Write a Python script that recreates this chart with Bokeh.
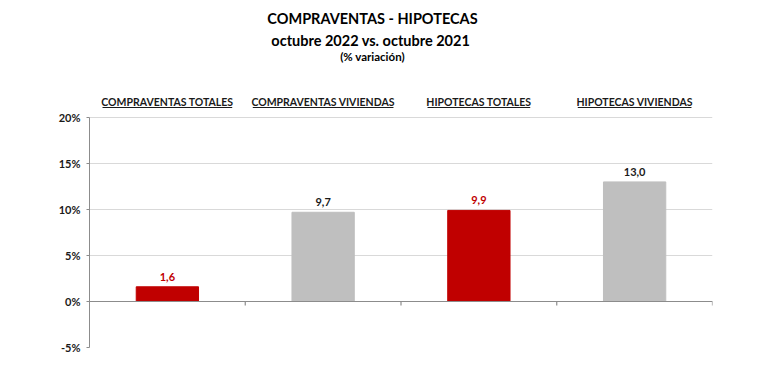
from bokeh.plotting import figure
from bokeh.models import Range1d, FixedTicker, PrintfTickFormatter, ColumnDataSource, Span
from bokeh.core.properties import value
from bokeh.embed import file_html
from bokeh.resources import INLINE

# ---- data ----
categories = ["COMPRAVENTAS TOTALES", "COMPRAVENTAS VIVIENDAS",
              "HIPOTECAS TOTALES", "HIPOTECAS VIVIENDAS"]
variation = [1.6, 9.7, 9.9, 13.0]
y_ticks = [-5, 0, 5, 10, 15, 20]
title_text = "COMPRAVENTAS - HIPOTECAS"
subtitle_text = "octubre 2022  vs. octubre 2021"
note_text = "(% variación)"

# ---- style ----
RED = "#C00000"
GRAY = "#BFBFBF"
AXIS = "#8C8C8C"
GRID = "#D9D9D9"
FONT = "Lato"
FW, FH = 623, 347
n = len(categories)
px_per_unit = FW / n
y_top = 32.72
px_per_pct = FH / (y_top - y_ticks[0])

p = figure(frame_width=FW, frame_height=FH, min_border_left=89, min_border_right=56,
           min_border_top=0, min_border_bottom=21,
           x_range=Range1d(0, n), y_range=Range1d(y_ticks[0], y_top),
           x_axis_location=None, output_backend="svg", toolbar_location=None)
p.outline_line_color = None
p.background_fill_color = "white"
p.border_fill_color = "white"

# y axis
p.yaxis.ticker = FixedTicker(ticks=y_ticks)
p.yaxis.bounds = (y_ticks[0], y_ticks[-1])
p.yaxis.formatter = PrintfTickFormatter(format="%d%%")
p.yaxis.axis_line_color = AXIS
p.yaxis.major_tick_line_color = AXIS
p.yaxis.major_tick_out = 3
p.yaxis.major_tick_in = 0
p.yaxis.minor_tick_line_color = None
p.yaxis.major_label_text_font = FONT
p.yaxis.major_label_text_font_style = "bold"
p.yaxis.major_label_text_font_size = "11px"
p.yaxis.major_label_text_color = "#1a1a1a"
p.yaxis.major_label_standoff = 6
p.ygrid.ticker = FixedTicker(ticks=y_ticks)
p.ygrid.grid_line_color = GRID
p.xgrid.visible = False

centers = [i + 0.5 for i in range(n)]
is_total = ["TOTALES" in c for c in categories]
bar_colors = [RED if t else GRAY for t in is_total]
label_colors = [RED if t else "#1a1a1a" for t in is_total]
labels = [f"{v:.1f}".replace(".", ",") for v in variation]

src = ColumnDataSource(dict(x=centers, top=variation, color=bar_colors,
                            lcolor=label_colors, label=labels, cat=categories))
p.vbar(x="x", top="top", bottom=0, width=0.4, fill_color="color", line_color="color", source=src)

# x axis line at zero with category-boundary ticks
p.add_layout(Span(location=0, dimension="width", line_color=AXIS, line_width=1.2))
bounds_x = list(range(1, n + 1))
tick_len = 4 / px_per_pct
p.segment(x0=bounds_x, x1=bounds_x, y0=[0] * n, y1=[-tick_len] * n, line_color=AXIS, line_width=1.2)

p.text(x="x", y="top", text="label", text_color="lcolor", source=src,
       text_font=value(FONT), text_font_style="bold", text_font_size="11px",
       text_align="center", text_baseline="bottom", y_offset=-6)

# category headers with underline
hdr_y = 21.74
p.text(x="x", y=hdr_y, text="cat", source=src, text_font=value(FONT),
       text_font_style="bold", text_font_size="10.5px", text_color="#1a1a1a",
       text_align="center", text_baseline="middle")

CW = {"I": 3.0, "T": 6.2, "L": 5.5, "E": 5.8, "S": 6.0, "P": 6.3, "A": 7.0, "O": 7.5,
      "C": 6.7, "M": 8.8, "R": 6.6, "V": 7.5, "N": 7.6, "D": 7.8, "H": 7.5, " ": 2.5}

def text_px(s):
    return sum(CW.get(ch, 6.8) for ch in s)

half = [text_px(c) / 2 / px_per_unit for c in categories]
ul_y = hdr_y - 6 / px_per_pct
p.segment(x0=[c - h for c, h in zip(centers, half)], x1=[c + h for c, h in zip(centers, half)],
          y0=[ul_y] * n, y1=[ul_y] * n, line_color="#1a1a1a", line_width=1)

# titles
tx = 1.817
p.text(x=[tx], y=[30.76], text=[title_text], text_font=value(FONT), text_font_style="bold",
       text_font_size="14.5px", text_color="black", text_align="center", text_baseline="middle")
p.text(x=[tx], y=[28.37], text=[subtitle_text], text_font=value(FONT), text_font_style="bold",
       text_font_size="14.5px", text_color="black", text_align="center", text_baseline="middle")
p.text(x=[tx], y=[26.6], text=[note_text], text_font=value(FONT), text_font_style="bold",
       text_font_size="11.5px", text_color="black", text_align="center", text_baseline="middle")

open("out.html", "w").write(file_html(p, INLINE))
